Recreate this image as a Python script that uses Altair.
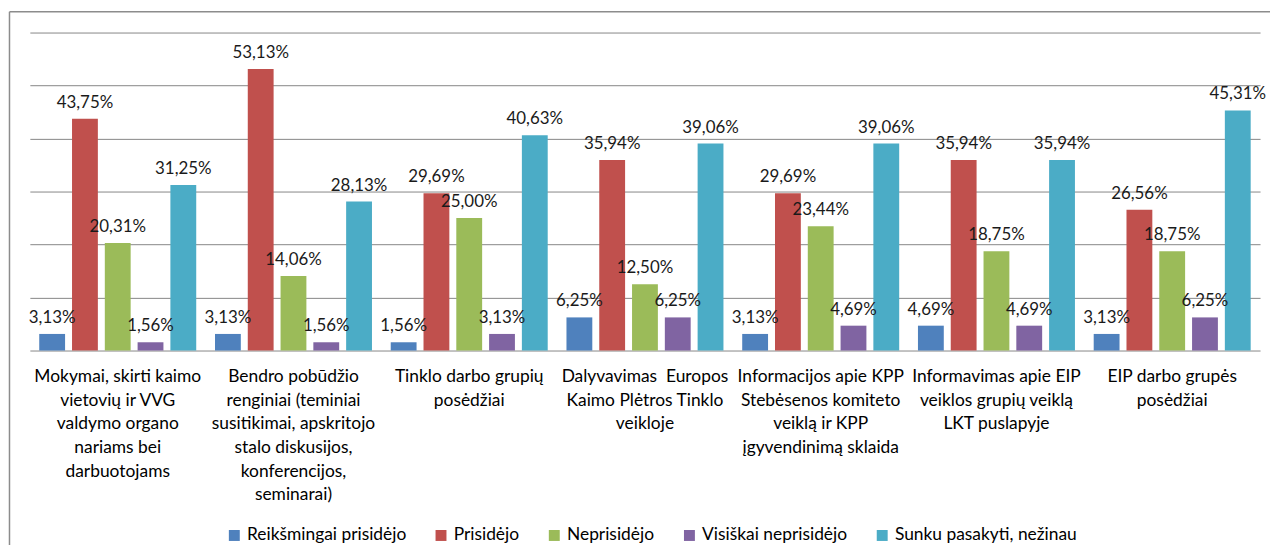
import altair as alt
import pandas as pd

categories = [
    "Mokymai, skirti kaimo|vietovių ir VVG|valdymo organo|nariams bei|darbuotojams",
    "Bendro pobūdžio|renginiai (teminiai|susitikimai, apskritojo|stalo diskusijos,|konferencijos,|seminarai)",
    "Tinklo darbo grupių|posėdžiai",
    "Dalyvavimas\u00a0 Europos|Kaimo Plėtros Tinklo|veikloje",
    "Informacijos apie KPP|Stebėsenos komiteto|veiklą ir KPP|įgyvendinimą sklaida",
    "Informavimas apie EIP|veiklos grupių veiklą|LKT puslapyje",
    "EIP darbo grupės|posėdžiai",
]
series = [
    "Reikšmingai prisidėjo",
    "Prisidėjo",
    "Neprisidėjo",
    "Visiškai neprisidėjo",
    "Sunku pasakyti, nežinau",
]
reiksmingai = [3.13, 3.13, 1.56, 6.25, 3.13, 4.69, 3.13]
prisidejo = [43.75, 53.13, 29.69, 35.94, 29.69, 35.94, 26.56]
neprisidejo = [20.31, 14.06, 25.00, 12.50, 23.44, 18.75, 18.75]
visiskai = [1.56, 1.56, 3.13, 6.25, 4.69, 4.69, 6.25]
sunku = [31.25, 28.13, 40.63, 39.06, 39.06, 35.94, 45.31]
colors = ["#4F81BD", "#C0504D", "#9BBB59", "#8064A2", "#4BACC6"]

values_by_series = [reiksmingai, prisidejo, neprisidejo, visiskai, sunku]
rows = []
for ci, cat in enumerate(categories):
    for si, s in enumerate(series):
        v = values_by_series[si][ci]
        rows.append({"cat": cat, "series": s, "value": v,
                     "label": f"{v:.2f}%".replace(".", ",")})
df = pd.DataFrame(rows)

FONT = "Lato"

base = alt.Chart(df).encode(
    x=alt.X("cat:N", sort=categories,
            scale=alt.Scale(paddingInner=0, paddingOuter=0),
            axis=alt.Axis(title=None, labelExpr="split(datum.label, '|')",
                          labelAngle=0, labelFontSize=17.5, labelLineHeight=23.7,
                          labelPadding=17.5, labelBaseline="top", ticks=False,
                          domain=False, labelLimit=400, labelColor="#000000",
                          labelFont=FONT)),
    xOffset=alt.XOffset("series:N", sort=series,
                        scale=alt.Scale(paddingInner=0.212, paddingOuter=0.286)),
)

bars = base.mark_bar().encode(
    y=alt.Y("value:Q", scale=alt.Scale(domain=[0, 60], nice=False),
            axis=alt.Axis(title=None, labels=False, ticks=False, domain=False,
                          grid=True, values=[0, 10, 20, 30, 40, 50, 60],
                          gridColor="#868686", gridWidth=1, gridOpacity=1)),
    color=alt.Color("series:N", sort=series,
                    scale=alt.Scale(domain=series, range=colors),
                    legend=alt.Legend(title=None, orient="none", direction="horizontal",
                                      columns=5, legendX=197, legendY=497,
                                      symbolType="square", symbolSize=121,
                                      symbolStrokeWidth=0, labelFontSize=17.5,
                                      labelFont=FONT, labelColor="#000000",
                                      labelLimit=400,
                                      columnPadding=26, padding=0, labelOffset=4)),
)

text = base.mark_text(baseline="bottom", dy=-7, fontSize=17, font=FONT,
                      color="#1a1a1a").encode(
    y=alt.Y("value:Q"),
    text="label:N",
)

frame_df = pd.DataFrame({"k": [0]})
top_border = alt.Chart(frame_df).mark_rule(color="#8c8c8c", strokeWidth=1.5).encode(
    x=alt.value(-20.5), x2=alt.value(1300), y=alt.value(-21))
left_border = alt.Chart(frame_df).mark_rule(color="#8c8c8c", strokeWidth=1.5).encode(
    x=alt.value(-20.5), y=alt.value(-21), y2=alt.value(600))

chart = alt.layer(bars, text, top_border, left_border).properties(
    width=1238, height=320,
    autosize=alt.AutoSizeParams(type="none"),
    padding={"left": 22, "top": 23, "right": 10, "bottom": 194},
).configure_view(stroke=None)

chart.save("out.html", embed_options={"renderer": "svg", "actions": False})
